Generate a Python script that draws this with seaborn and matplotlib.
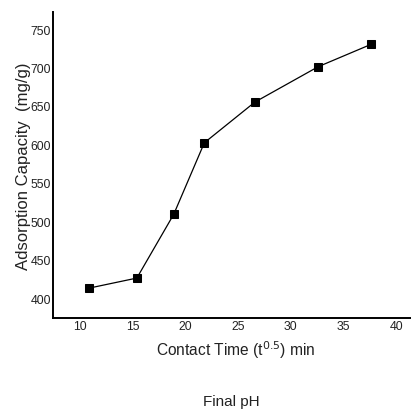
import matplotlib
matplotlib.use("Agg")
import matplotlib.pyplot as plt
import seaborn as sns
import pandas as pd

contact_time = [10.9, 15.4, 18.9, 21.8, 26.6, 32.6, 37.6]
capacity = [413, 426, 509, 602, 655, 701, 730]
x_ticks = [10, 15, 20, 25, 30, 35, 40]
y_ticks = [400, 450, 500, 550, 600, 650, 700, 750]

sns.set_style("white")
plt.rcParams['font.family'] = ['Liberation Sans', 'DejaVu Sans']

df = pd.DataFrame({"t": contact_time, "q": capacity})

fig = plt.figure(figsize=(4.11, 4.10), dpi=100)
ax = fig.add_axes([0.129, 0.223, 0.871, 0.745])
sns.lineplot(data=df, x="t", y="q", ax=ax, color="black", linewidth=0.9,
             marker="s", markersize=6, markeredgecolor="black", markerfacecolor="black")

ax.set_xlim(7.45, 41.4)
ax.set_ylim(374.6, 772)
ax.set_xticks(x_ticks)
ax.set_yticks(y_ticks)
ax.tick_params(axis="both", length=0, labelsize=8.8, colors="#222222", pad=1.5)
for s in ["top", "right"]:
    ax.spines[s].set_visible(False)
for s in ["left", "bottom"]:
    ax.spines[s].set_color("black")
    ax.spines[s].set_linewidth(1.4)

ax.set_xlabel("Contact Time (t$^{0.5}$) min", fontsize=11.2, color="#222222")
ax.xaxis.set_label_coords((236 - 53) / 358, -(350 - 318.5) / 305.5)
ax.set_ylabel("Adsorption Capacity  (mg/g)", fontsize=12, color="#222222")
ax.yaxis.set_label_coords(-(53 - 23) / 358, (318.5 - 166) / 305.5)
ax.xaxis.label.set_va("center")
ax.yaxis.label.set_va("center")
fig.text(231 / 411, 1 - 402 / 410, "Final pH", fontsize=11, color="#222222", ha="center", va="center")

fig.savefig("out.png", dpi=100)
